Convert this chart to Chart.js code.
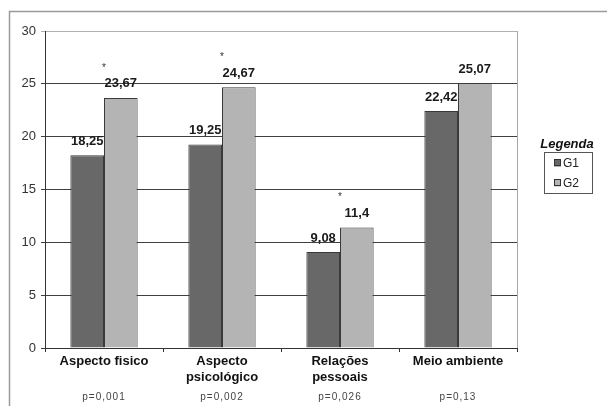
<!DOCTYPE html>
<html>
<head>
<meta charset="utf-8">
<script src="https://cdn.jsdelivr.net/npm/chart.js@4/dist/chart.umd.min.js"></script>
<style>
  html, body { margin: 0; padding: 0; background: #ffffff; }
  canvas { display: block; }
</style>
</head>
<body>
<canvas id="c" width="607" height="406"></canvas>
<script>
const categories = ['Aspecto fisico', ['Aspecto', 'psicológico'], ['Relações', 'pessoais'], 'Meio ambiente'];
const g1Values = [18.25, 19.25, 9.08, 22.42];
const g2Values = [23.67, 24.67, 11.4, 25.07];
const pValues = ['p=0,001', 'p=0,002', 'p=0,026', 'p=0,13'];
const significant = [true, true, true, false];
const yTicks = [0, 5, 10, 15, 20, 25, 30];
const seriesNames = ['G1', 'G2'];
const legendTitle = 'Legenda';

const G1_COLOR = '#686868';
const G2_COLOR = '#b4b4b4';
const BORDER = '#3a3a3a';
const FONT = '"Liberation Sans", Arial, sans-serif';

const fmt = v => String(v).replace('.', ',');

const extras = {
  id: 'extras',
  beforeDraw(chart) {
    const ctx = chart.ctx;
    ctx.save();
    ctx.fillStyle = '#ffffff';
    ctx.fillRect(0, 0, chart.width, chart.height);
    ctx.strokeStyle = '#9a9a9a';
    ctx.lineWidth = 1.5;
    ctx.beginPath();
    ctx.moveTo(9.5, chart.height);
    ctx.lineTo(9.5, 11.5);
    ctx.lineTo(chart.width, 11.5);
    ctx.stroke();
    ctx.restore();
  },
  afterDraw(chart) {
    const ctx = chart.ctx;
    const area = chart.chartArea;
    const xs = chart.scales.x;
    ctx.save();
    // right border of plot area
    ctx.strokeStyle = '#a8a8a8';
    ctx.lineWidth = 1;
    ctx.beginPath();
    ctx.moveTo(Math.round(area.right) + 0.5, area.top);
    ctx.lineTo(Math.round(area.right) + 0.5, area.bottom);
    ctx.stroke();

    // data labels
    ctx.font = 'bold 13px ' + FONT;
    ctx.fillStyle = '#1a1a1a';
    ctx.textAlign = 'center';
    ctx.textBaseline = 'middle';
    chart.data.datasets.forEach((ds, di) => {
      const meta = chart.getDatasetMeta(di);
      meta.data.forEach((bar, i) => {
        ctx.fillText(fmt(ds.data[i]), bar.x, bar.y - 14);
      });
    });

    // asterisks
    ctx.font = '10px ' + FONT;
    ctx.fillStyle = '#333';
    const meta2 = chart.getDatasetMeta(1);
    significant.forEach((s, i) => {
      if (!s) return;
      const bar = meta2.data[i];
      ctx.fillText('*', xs.getPixelForValue(i), bar.y - 30);
    });

    // p-values
    ctx.font = '10px ' + FONT;
    ctx.fillStyle = '#444';
    try { ctx.letterSpacing = '1px'; } catch (e) {}
    pValues.forEach((p, i) => {
      ctx.fillText(p, xs.getPixelForValue(i), 397);
    });
    try { ctx.letterSpacing = '0px'; } catch (e) {}

    // legend
    ctx.font = 'italic bold 13px ' + FONT;
    ctx.fillStyle = '#111';
    ctx.fillText(legendTitle, 567, 144);
    ctx.strokeStyle = '#555';
    ctx.lineWidth = 1;
    ctx.strokeRect(544.5, 152.5, 48, 41);
    ctx.font = '12px ' + FONT;
    ctx.textAlign = 'left';
    const colors = [G1_COLOR, G2_COLOR];
    seriesNames.forEach((n, k) => {
      const cy = 163 + k * 20;
      ctx.fillStyle = colors[k];
      ctx.fillRect(554, cy - 3.5, 7, 7);
      ctx.strokeStyle = '#333';
      ctx.strokeRect(554.5, cy - 3.5, 6, 6);
      ctx.fillStyle = '#222';
      ctx.fillText(n, 563, cy + 0.5);
    });
    ctx.restore();
  }
};

new Chart(document.getElementById('c'), {
  type: 'bar',
  data: {
    labels: categories,
    datasets: [
      { label: seriesNames[0], data: g1Values, backgroundColor: G1_COLOR, borderColor: BORDER, borderWidth: 1 },
      { label: seriesNames[1], data: g2Values, backgroundColor: G2_COLOR, borderColor: BORDER, borderWidth: 1 }
    ]
  },
  options: {
    responsive: false,
    animation: false,
    devicePixelRatio: 1,
    layout: { padding: { left: 0, top: 31, right: 90, bottom: 0 } },
    datasets: { bar: { categoryPercentage: 0.57, barPercentage: 1.0 } },
    plugins: { legend: { display: false }, tooltip: { enabled: false } },
    scales: {
      x: {
        afterFit(s) { s.height = 58; },
        grid: { offset: true, drawOnChartArea: false, drawTicks: true, tickLength: 4, color: '#333' },
        border: { display: true, color: '#333', width: 1 },
        ticks: { font: { family: FONT, size: 13, weight: 'bold' }, color: '#111', padding: 2, maxRotation: 0, autoSkip: false }
      },
      y: {
        min: 0, max: 30,
        afterFit(s) { s.width = 45; },
        afterBuildTicks(s) { s.ticks = yTicks.map(v => ({ value: v })); },
        grid: {
          color: c => (c.tick && c.tick.value === 30 ? '#b0b0b0' : '#404040'),
          lineWidth: 1, drawTicks: true, tickLength: 4
        },
        border: { display: true, color: '#333', width: 1 },
        ticks: { font: { family: FONT, size: 13 }, color: '#333', padding: 5 }
      }
    }
  },
  plugins: [extras]
});
</script>
</body>
</html>
